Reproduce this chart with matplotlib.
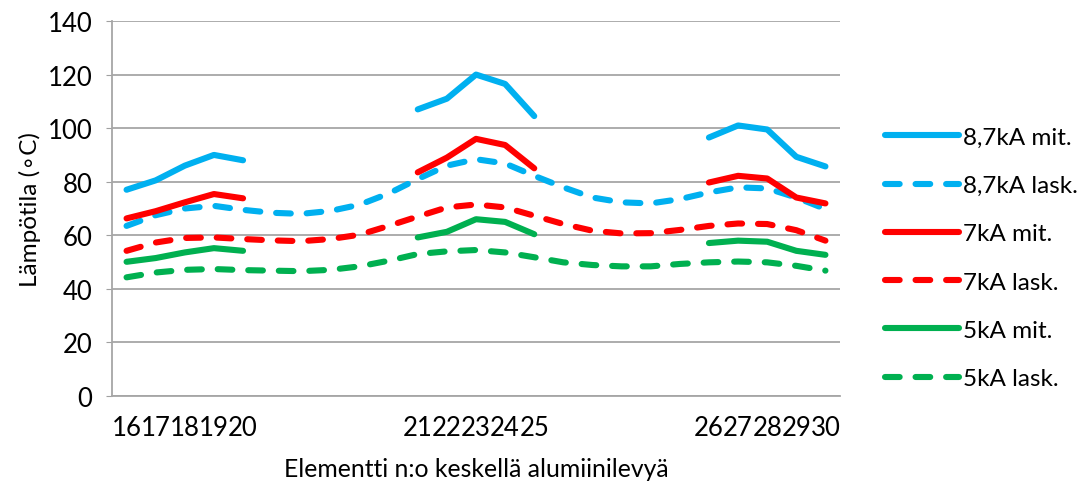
import matplotlib
matplotlib.use("Agg")
import matplotlib.pyplot as plt
import numpy as np

plt.rcParams['font.family'] = ['Lato', 'DejaVu Sans']

tick_labels = ["16", "17", "18", "19", "20", "", "", "", "", "",
               "21", "22", "23", "24", "25", "", "", "", "", "",
               "26", "27", "28", "29", "30"]
N = None
mit_87 = [77, 80.5, 86, 90, 88, N, N, N, N, N,
          107, 111, 120, 116.5, 104.5, N, N, N, N, N,
          96.5, 101, 99.5, 89.3, 85.7]
lask_87 = [63.5, 67.5, 70, 71, 69.5, 68.4, 68, 69.1, 71.4, 75.6,
           81, 86, 88.4, 86.8, 82.2, 77.9, 74.1, 72.3, 71.9, 73.5,
           76, 77.9, 77.5, 74.1, 69.8]
mit_7 = [66.3, 69, 72.3, 75.4, 73.8, N, N, N, N, N,
         83.5, 89, 96, 93.7, 85, N, N, N, N, N,
         79.7, 82.2, 81.2, 74.1, 71.9]
lask_7 = [54.2, 57.3, 59, 59.2, 58.6, 58.1, 57.8, 58.6, 60.2, 63.5,
          67, 70.4, 71.5, 70.4, 67.3, 64.2, 61.7, 60.7, 60.8, 62,
          63.5, 64.4, 64.2, 61.9, 58]
mit_5 = [50.1, 51.5, 53.6, 55.2, 54.2, N, N, N, N, N,
         59.2, 61.3, 66, 65, 60.4, N, N, N, N, N,
         57.1, 58, 57.6, 54.2, 52.7]
lask_5 = [44.3, 46.1, 47.1, 47.4, 47, 46.8, 46.6, 47.1, 48.4, 50.5,
          53, 54, 54.5, 53.6, 51.8, 49.9, 48.9, 48.4, 48.4, 49.3,
          49.9, 50.2, 49.9, 48.6, 46.8]

series = [
    ("8,7kA mit.", mit_87, "#00B0F0", "-"),
    ("8,7kA lask.", lask_87, "#00B0F0", "--"),
    ("7kA mit.", mit_7, "#FF0000", "-"),
    ("7kA lask.", lask_7, "#FF0000", "--"),
    ("5kA mit.", mit_5, "#00B050", "-"),
    ("5kA lask.", lask_5, "#00B050", "--"),
]

fig = plt.figure(figsize=(10.81, 4.89), dpi=100)
ax = fig.add_axes([112/1081, 1-397/489, (840-112)/1081, (397-22)/489])

x = np.arange(len(tick_labels))
for name, vals, col, ls in series:
    y = np.array([np.nan if v is None else v for v in vals], dtype=float)
    if ls == "-":
        ax.plot(x, y, color=col, lw=4.4, solid_capstyle='round',
                solid_joinstyle='round', label=name)
    else:
        ax.plot(x, y, color=col, lw=4.4, dashes=(2.4, 2.6),
                dash_capstyle='round', dash_joinstyle='round', label=name)

ax.set_xlim(-0.5, len(tick_labels) - 0.5)
ax.set_ylim(0, 140)
ax.set_yticks(np.arange(0, 141, 20))
ax.set_xticks(x)
ax.set_xticklabels(tick_labels)
ax.tick_params(axis='x', length=0, pad=14, labelsize=18.5)
ax.tick_params(axis='y', length=4, color='#A0A0A0', pad=10, labelsize=18.5)
ax.grid(axis='y', color='#A6A6A6', lw=1.3)
ax.set_axisbelow(True)
for s in ['top', 'right']:
    ax.spines[s].set_visible(False)
ax.spines['left'].set_color('#A6A6A6')
ax.spines['bottom'].set_color('#A6A6A6')
ax.spines['left'].set_linewidth(1.3)
ax.spines['bottom'].set_linewidth(1.3)

ax.set_xlabel("Elementti n:o keskellä alumiinilevyä", fontsize=17.8, labelpad=12)
ax.set_ylabel("Lämpötila (∘C)", fontsize=17.5, labelpad=5)

leg = ax.legend(loc='upper left', bbox_to_anchor=(863/1081, 1-106/489),
                bbox_transform=fig.transFigure, frameon=False, fontsize=17.5,
                handlelength=3.05, labelspacing=1.12, handletextpad=0.15)

fig.savefig("out.png", dpi=100)
